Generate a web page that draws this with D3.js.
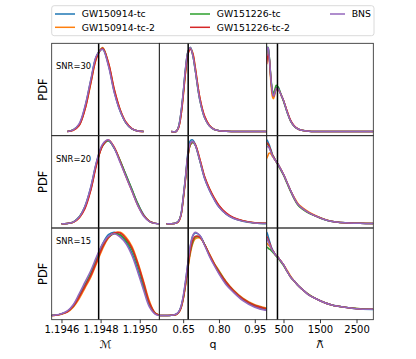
<!DOCTYPE html>
<html>
<head>
<meta charset="utf-8">
<title>Posterior PDFs</title>
<script src="https://cdn.jsdelivr.net/npm/d3@7"></script>
<style>
  body { margin: 0; background: #fff; }
  text { font-family: "DejaVu Sans", sans-serif; fill: #000; }
</style>
</head>
<body>
<div id="chart"></div>
<script>
// series order: GW150914-tc, GW150914-tc-2, GW151226-tc, GW151226-tc-2, BNS
var seriesNames = ["GW150914-tc", "GW150914-tc-2", "GW151226-tc", "GW151226-tc-2", "BNS"];
var seriesColors = ["#1f77b4", "#ff7f0e", "#2ca02c", "#d62728", "#9467bd"];
var snrLabels = ["SNR=30", "SNR=20", "SNR=15"];
var paramLabels = ["\u2133", "q", "\u039B"];

var mcDomain = [1.19455, 1.19510];
var qDomain = [0.55, 1.0];
var lamDomain = [40, 2960];
var truths = [1.19479, 0.671, 335];

var mcTicks = [1.1946, 1.1948, 1.1950];
var mcTickLabels = ["1.1946", "1.1948", "1.1950"];
var qTicks = [0.65, 0.80, 0.95];
var qTickLabels = ["0.65", "0.80", "0.95"];
var lamTicks = [500, 1500, 2500];
var lamTickLabels = ["500", "1500", "2500"];

// sample points of the density curves (relative height)
var mcGrid = [1.19454, 1.19457, 1.19460, 1.19463, 1.19466, 1.19469, 1.19472, 1.19475, 1.19478, 1.19481,
              1.19484, 1.19487, 1.19490, 1.19493, 1.19496, 1.19499, 1.19502, 1.19505, 1.19508, 1.19511];
var qGrid = [0.55, 0.58, 0.60, 0.62, 0.63, 0.64, 0.65, 0.66, 0.67, 0.68, 0.69,
             0.70, 0.72, 0.74, 0.76, 0.78, 0.80, 0.83, 0.86, 0.90, 0.95, 1.00];
var lamGrid = [40, 60, 80, 100, 120, 140, 160, 180, 200, 225, 250, 275, 300, 350, 400,
               450, 500, 600, 700, 800, 900, 1000, 1200, 1400, 1600, 1800, 2000, 2300, 2600, 2960];

var mcSnr30 = [
  [null,null,null,0,0.02,0.08,0.29,0.61,0.9,0.98,0.79,0.47,0.24,0.1,0.03,0.005,0,null,null,null],
  [null,null,null,0,0.015,0.07,0.26,0.57,0.88,1.0,0.82,0.5,0.26,0.11,0.035,0.006,0,null,null,null],
  [null,null,null,0,0.02,0.08,0.28,0.6,0.9,0.99,0.8,0.48,0.25,0.1,0.03,0.005,0,null,null,null],
  [null,null,null,0,0.015,0.07,0.26,0.58,0.88,0.99,0.82,0.5,0.26,0.11,0.035,0.006,0,null,null,null],
  [null,null,null,0,0.02,0.09,0.3,0.62,0.91,0.98,0.78,0.46,0.24,0.1,0.03,0.005,0,null,null,null]
];
var mcSnr20 = [
  [null,null,0,0.005,0.02,0.08,0.21,0.44,0.74,0.94,0.99,0.9,0.75,0.58,0.41,0.24,0.11,0.03,0.005,0],
  [null,null,0,0.004,0.018,0.07,0.19,0.41,0.72,0.93,1.0,0.91,0.75,0.57,0.4,0.23,0.1,0.03,0.005,0],
  [null,null,0,0.005,0.02,0.08,0.2,0.42,0.73,0.93,0.99,0.9,0.75,0.58,0.41,0.24,0.1,0.03,0.005,0],
  [null,null,0,0.004,0.017,0.07,0.18,0.4,0.71,0.93,1.0,0.91,0.74,0.56,0.39,0.22,0.1,0.03,0.005,0],
  [null,null,0,0.005,0.02,0.08,0.21,0.44,0.75,0.95,1.0,0.9,0.73,0.56,0.39,0.22,0.09,0.025,0.004,0]
];
var mcSnr15 = [
  [0,0.005,0.02,0.05,0.12,0.24,0.37,0.51,0.69,0.86,0.97,1.0,0.96,0.88,0.75,0.55,0.33,0.12,0.02,0],
  [0,0.004,0.015,0.04,0.1,0.2,0.33,0.46,0.63,0.8,0.93,0.99,1.0,0.94,0.83,0.64,0.41,0.17,0.03,0],
  [0,0.005,0.02,0.05,0.11,0.23,0.36,0.5,0.67,0.83,0.94,0.98,0.97,0.9,0.79,0.6,0.37,0.14,0.025,0],
  [0,0.004,0.018,0.045,0.11,0.22,0.35,0.48,0.65,0.82,0.94,0.99,0.99,0.92,0.81,0.62,0.39,0.15,0.025,0],
  [0,0.006,0.022,0.055,0.13,0.26,0.4,0.54,0.71,0.86,0.95,0.98,0.94,0.86,0.72,0.52,0.3,0.1,0.015,0]
];

var qSnr30 = [
  [null,null,0,0,0.05,0.2,0.45,0.74,0.94,1.0,0.92,0.75,0.38,0.17,0.07,0.025,0.01,0.003,0.001,0,0,0],
  [null,null,0,0,0.04,0.17,0.41,0.7,0.92,0.99,0.94,0.78,0.4,0.18,0.075,0.027,0.01,0.003,0.001,0,0,0],
  [null,null,0,0,0.05,0.2,0.45,0.75,0.95,1.0,0.91,0.74,0.37,0.16,0.065,0.024,0.01,0.003,0.001,0,0,0],
  [null,null,0,0,0.04,0.17,0.42,0.71,0.92,0.98,0.93,0.77,0.4,0.18,0.072,0.026,0.01,0.003,0.001,0,0,0],
  [null,null,0,0,0.05,0.21,0.46,0.76,0.95,1.0,0.91,0.74,0.37,0.16,0.065,0.024,0.01,0.003,0.001,0,0,0]
];
var qSnr20 = [
  [null,0,0,0.01,0.03,0.1,0.31,0.57,0.85,0.99,1.0,0.95,0.75,0.54,0.4,0.29,0.2,0.115,0.065,0.03,0.01,0.004],
  [null,0,0,0.008,0.025,0.09,0.28,0.53,0.8,0.94,0.97,0.95,0.77,0.56,0.42,0.31,0.22,0.125,0.072,0.037,0.012,0.006],
  [null,0,0,0.01,0.03,0.1,0.3,0.55,0.81,0.94,0.97,0.94,0.75,0.55,0.41,0.3,0.21,0.12,0.07,0.035,0.01,0.005],
  [null,0,0,0.008,0.025,0.09,0.29,0.54,0.81,0.95,0.98,0.95,0.77,0.56,0.42,0.31,0.22,0.13,0.075,0.038,0.012,0.006],
  [null,0,0,0.01,0.03,0.1,0.31,0.56,0.83,0.96,0.98,0.94,0.75,0.54,0.4,0.29,0.2,0.115,0.066,0.032,0.01,0.004]
];
var qSnr15 = [
  [0,0,0.003,0.015,0.04,0.1,0.22,0.41,0.63,0.83,0.95,0.99,0.96,0.85,0.72,0.61,0.51,0.38,0.29,0.19,0.11,0.065],
  [0,0,0.002,0.01,0.03,0.08,0.19,0.36,0.56,0.74,0.86,0.92,0.93,0.85,0.74,0.63,0.54,0.41,0.31,0.21,0.13,0.09],
  [0,0,0.003,0.013,0.035,0.09,0.2,0.38,0.58,0.77,0.88,0.94,0.94,0.85,0.73,0.62,0.53,0.4,0.3,0.2,0.12,0.08],
  [0,0,0.002,0.012,0.033,0.085,0.2,0.38,0.59,0.78,0.9,0.95,0.94,0.85,0.73,0.62,0.52,0.4,0.3,0.2,0.12,0.08],
  [0,0,0.003,0.015,0.04,0.1,0.23,0.42,0.64,0.84,0.96,1.0,0.96,0.84,0.71,0.6,0.5,0.37,0.28,0.18,0.1,0.06]
];

var lamSnr30 = [
  [0.92,1.0,0.99,0.92,0.83,0.71,0.6,0.52,0.46,0.43,0.45,0.49,0.52,0.53,0.48,0.42,0.37,0.23,0.12,0.06,0.03,0.015,0.004,0.001,0,0,0,0,0,0],
  [0.88,0.97,0.98,0.9,0.8,0.67,0.55,0.46,0.41,0.39,0.42,0.47,0.5,0.51,0.47,0.42,0.37,0.24,0.12,0.06,0.03,0.015,0.004,0.001,0,0,0,0,0,0],
  [0.93,1.0,1.0,0.94,0.85,0.73,0.62,0.54,0.48,0.45,0.48,0.52,0.55,0.53,0.48,0.42,0.36,0.23,0.12,0.06,0.03,0.015,0.004,0.001,0,0,0,0,0,0],
  [0.8,0.88,0.92,0.9,0.83,0.71,0.6,0.51,0.45,0.42,0.44,0.48,0.51,0.51,0.47,0.42,0.37,0.24,0.13,0.065,0.03,0.015,0.004,0.001,0,0,0,0,0,0],
  [0.9,0.99,1.0,0.93,0.84,0.72,0.6,0.52,0.46,0.42,0.44,0.48,0.51,0.51,0.47,0.42,0.37,0.23,0.12,0.06,0.03,0.015,0.004,0.001,0,0,0,0,0,0]
];
var lamSnr20 = [
  [1.0,0.99,0.97,0.95,0.93,0.9,0.88,0.85,0.82,0.8,0.78,0.76,0.74,0.71,0.67,0.63,0.59,0.49,0.39,0.3,0.23,0.19,0.13,0.09,0.055,0.03,0.018,0.01,0.006,0.004],
  [0.78,0.8,0.82,0.84,0.845,0.84,0.83,0.82,0.8,0.79,0.77,0.76,0.74,0.71,0.67,0.63,0.59,0.49,0.39,0.31,0.24,0.2,0.14,0.095,0.058,0.032,0.019,0.011,0.007,0.005],
  [0.94,0.95,0.94,0.92,0.9,0.88,0.86,0.84,0.82,0.8,0.78,0.76,0.74,0.7,0.66,0.62,0.58,0.48,0.38,0.29,0.22,0.18,0.125,0.088,0.054,0.03,0.018,0.01,0.006,0.004],
  [0.97,0.96,0.95,0.93,0.91,0.89,0.86,0.84,0.82,0.8,0.78,0.76,0.74,0.71,0.67,0.63,0.59,0.49,0.39,0.3,0.23,0.19,0.13,0.09,0.056,0.031,0.018,0.01,0.006,0.004],
  [0.91,0.92,0.92,0.91,0.89,0.87,0.85,0.83,0.81,0.79,0.77,0.76,0.74,0.71,0.67,0.63,0.59,0.49,0.39,0.3,0.23,0.19,0.13,0.09,0.055,0.03,0.018,0.01,0.006,0.004]
];
var lamSnr15 = [
  [1.0,0.98,0.95,0.92,0.89,0.86,0.83,0.81,0.79,0.77,0.75,0.73,0.72,0.7,0.67,0.64,0.61,0.53,0.46,0.41,0.36,0.32,0.245,0.2,0.16,0.13,0.11,0.092,0.077,0.073],
  [0.87,0.86,0.85,0.84,0.83,0.82,0.8,0.79,0.77,0.76,0.74,0.73,0.72,0.7,0.67,0.64,0.61,0.54,0.47,0.41,0.36,0.32,0.25,0.2,0.16,0.13,0.11,0.094,0.08,0.076],
  [0.82,0.815,0.81,0.8,0.795,0.79,0.78,0.77,0.76,0.75,0.74,0.73,0.71,0.69,0.66,0.63,0.6,0.53,0.46,0.41,0.36,0.32,0.25,0.2,0.16,0.13,0.11,0.094,0.08,0.076],
  [0.95,0.93,0.91,0.89,0.87,0.85,0.82,0.8,0.78,0.77,0.75,0.73,0.72,0.7,0.67,0.64,0.61,0.53,0.46,0.41,0.36,0.32,0.245,0.2,0.16,0.13,0.11,0.093,0.078,0.074],
  [0.93,0.91,0.89,0.87,0.85,0.83,0.81,0.79,0.78,0.76,0.75,0.73,0.72,0.7,0.67,0.64,0.61,0.53,0.46,0.41,0.36,0.32,0.245,0.2,0.16,0.13,0.11,0.093,0.078,0.074]
];

// ---- layout ----
var width = 416, height = 359;
var colX = [51.7, 159.3, 266.7, 373.3];
var rowY = [43.3, 135.7, 228, 319.7];
var snrOffset = [22.4, 23, 13.3];

var grids = [mcGrid, qGrid, lamGrid];
var domains = [mcDomain, qDomain, lamDomain];
var ticks = [mcTicks, qTicks, lamTicks];
var tickLabels = [mcTickLabels, qTickLabels, lamTickLabels];
var panels = [
  [mcSnr30, qSnr30, lamSnr30],
  [mcSnr20, qSnr20, lamSnr20],
  [mcSnr15, qSnr15, lamSnr15]
];

var svg = d3.select("#chart").append("svg")
  .attr("width", width)
  .attr("height", height);

var defs = svg.append("defs");

panels.forEach(function (row, r) {
  row.forEach(function (series, c) {
    var x = d3.scaleLinear().domain(domains[c]).range([colX[c], colX[c + 1]]);
    var ymax = d3.max(series, function (s) { return d3.max(s); });
    var y = d3.scaleLinear().domain([-0.05 * ymax, 1.05 * ymax]).range([rowY[r + 1], rowY[r]]);

    var clipId = "clip-" + r + "-" + c;
    defs.append("clipPath").attr("id", clipId)
      .append("rect")
      .attr("x", colX[c]).attr("y", rowY[r])
      .attr("width", colX[c + 1] - colX[c]).attr("height", rowY[r + 1] - rowY[r]);

    var g = svg.append("g").attr("clip-path", "url(#" + clipId + ")");

    var line = d3.line()
      .defined(function (d) { return d[1] != null; })
      .x(function (d) { return x(d[0]); })
      .y(function (d) { return y(d[1]); })
      .curve(d3.curveCatmullRom.alpha(0.5));

    series.forEach(function (vals, i) {
      var pts = grids[c].map(function (gx, k) { return [gx, vals[k]]; });
      g.append("path")
        .datum(pts)
        .attr("d", line)
        .attr("fill", "none")
        .attr("stroke", seriesColors[i])
        .attr("stroke-width", 1.5)
        .attr("stroke-linejoin", "round");
    });

    // injected value
    g.append("line")
      .attr("x1", x(truths[c])).attr("x2", x(truths[c]))
      .attr("y1", rowY[r]).attr("y2", rowY[r + 1])
      .attr("stroke", "#000")
      .attr("stroke-width", 1.5);

    // panel frame
    svg.append("rect")
      .attr("x", colX[c]).attr("y", rowY[r])
      .attr("width", colX[c + 1] - colX[c]).attr("height", rowY[r + 1] - rowY[r])
      .attr("fill", "none")
      .attr("stroke", "#222")
      .attr("stroke-width", 0.8);

    // x axis on bottom row only
    if (r === panels.length - 1) {
      var axis = d3.axisBottom(x)
        .tickValues(ticks[c])
        .tickSize(3.5)
        .tickPadding(2.5)
        .tickFormat(function (d, k) { return tickLabels[c][k]; });
      var ag = svg.append("g")
        .attr("transform", "translate(0," + rowY[r + 1] + ")")
        .call(axis);
      ag.select(".domain").remove();
      ag.selectAll(".tick line").attr("stroke", "#000").attr("stroke-width", 0.8);
      ag.selectAll(".tick text")
        .style("font-family", "'DejaVu Sans', sans-serif")
        .style("font-size", "10px")
        .attr("fill", "#000");
    }
  });

  // SNR label
  svg.append("text")
    .attr("x", 56)
    .attr("y", rowY[r] + snrOffset[r] + 3)
    .style("font-size", "8.4px")
    .text(snrLabels[r]);

  // y label
  var cy = (rowY[r] + rowY[r + 1]) / 2;
  svg.append("text")
    .attr("transform", "translate(47," + cy + ") rotate(-90)")
    .attr("text-anchor", "middle")
    .style("font-size", "11.5px")
    .text("PDF");
});

// x axis titles
paramLabels.forEach(function (lab, c) {
  var cx = (colX[c] + colX[c + 1]) / 2;
  var t = svg.append("text")
    .attr("text-anchor", "middle")
    .style("font-size", c === 2 ? "10px" : "11px");
  t.append("tspan")
    .attr("x", cx)
    .attr("y", 347.5)
    .text(lab);
  if (c === 2) {
    // tilde accent over Lambda, same text element
    t.append("tspan")
      .attr("x", cx)
      .attr("y", 343.5)
      .style("font-size", "8px")
      .text("~");
  }
});

// legend
var legend = svg.append("g");
legend.append("rect")
  .attr("x", 51.7).attr("y", 5.7)
  .attr("width", 322.3).attr("height", 30)
  .attr("rx", 2.5)
  .attr("fill", "#fff")
  .attr("stroke", "#d0d0d0")
  .attr("stroke-width", 0.8);

var legendPos = [
  { x: 55, y: 14, len: 20, tx: 81.7 },
  { x: 55, y: 27.3, len: 20, tx: 81.7 },
  { x: 190, y: 14, len: 20, tx: 216.7 },
  { x: 190, y: 27.3, len: 20, tx: 216.7 },
  { x: 330, y: 14, len: 15, tx: 351.7 }
];
seriesNames.forEach(function (name, i) {
  var p = legendPos[i];
  legend.append("line")
    .attr("x1", p.x).attr("x2", p.x + p.len)
    .attr("y1", p.y).attr("y2", p.y)
    .attr("stroke", seriesColors[i])
    .attr("stroke-width", 1.5);
  legend.append("text")
    .attr("x", p.tx)
    .attr("y", p.y + 3.4)
    .style("font-size", "9.3px")
    .text(name);
});
</script>
</body>
</html>
